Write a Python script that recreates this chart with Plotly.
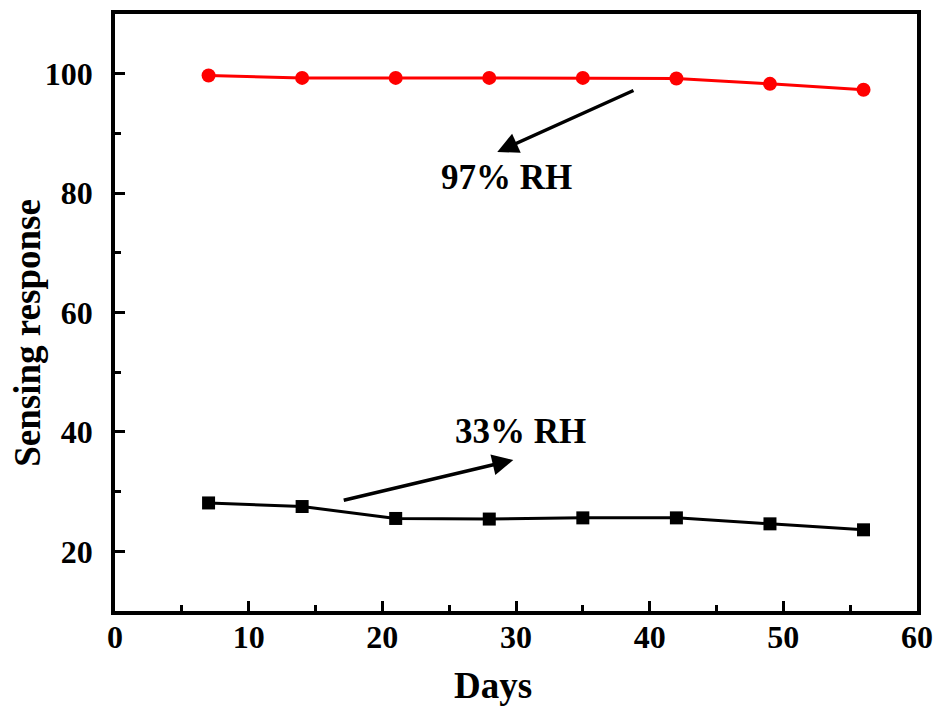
import plotly.graph_objects as go

days = [7, 14, 21, 28, 35, 42, 49, 56]
rh97 = [99.7, 99.3, 99.3, 99.3, 99.3, 99.2, 98.3, 97.3]
rh33 = [28.1, 27.5, 25.5, 25.4, 25.6, 25.6, 24.6, 23.6]

x_ticks = [0, 10, 20, 30, 40, 50, 60]
y_ticks = [20, 40, 60, 80, 100]

FONT = "Liberation Serif"

fig = go.Figure()
fig.add_trace(go.Scatter(x=days, y=rh97, mode="lines+markers",
                         line=dict(color="#ff0000", width=3),
                         marker=dict(symbol="circle", size=14, color="#ff0000"),
                         showlegend=False))
fig.add_trace(go.Scatter(x=days, y=rh33, mode="lines+markers",
                         line=dict(color="#000000", width=3),
                         marker=dict(symbol="square", size=13, color="#000000"),
                         showlegend=False))

fig.add_annotation(x=28.6, y=86.9, ax=38.9, ay=97.3, xref="x", yref="y", axref="x", ayref="y",
                   showarrow=True, arrowhead=2, arrowsize=1.2, arrowwidth=3.5, arrowcolor="black", text="")
fig.add_annotation(x=29.8, y=35.3, ax=17.0, ay=28.5, xref="x", yref="y", axref="x", ayref="y",
                   showarrow=True, arrowhead=2, arrowsize=1.2, arrowwidth=3.5, arrowcolor="black", text="")
fig.add_annotation(x=29.3, y=82.6, xref="x", yref="y", showarrow=False, text="97% RH",
                   font=dict(family=FONT, size=35, color="black", weight="bold"))
fig.add_annotation(x=30.3, y=40.0, xref="x", yref="y", showarrow=False, text="33% RH",
                   font=dict(family=FONT, size=35, color="black", weight="bold"))

# axis titles
fig.add_annotation(x=-0.1085, y=0.466, xref="paper", yref="paper", showarrow=False,
                   text="Sensing response", textangle=-90, xanchor="center", yanchor="middle",
                   font=dict(family=FONT, size=37, color="black", weight="bold"))
fig.add_annotation(x=0.471, y=-0.124, xref="paper", yref="paper", showarrow=False,
                   text="Days", xanchor="center", yanchor="middle",
                   font=dict(family=FONT, size=37, color="black", weight="bold"))

axis_common = dict(showline=True, linecolor="black", linewidth=3.5, mirror=True,
                   ticks="inside", ticklen=10, tickwidth=3, tickcolor="black",
                   showgrid=False, zeroline=False, automargin=False,
                   tickfont=dict(family=FONT, size=32, color="black", weight="bold"))

fig.update_xaxes(range=[0, 60], tickvals=x_ticks, ticktext=[str(v) for v in x_ticks],
                 minor=dict(ticks="inside", dtick=5, tick0=0, ticklen=6, tickwidth=3, tickcolor="black"),
                 ticklabelstandoff=-5,
                 **axis_common)
fig.update_yaxes(range=[10, 110], tickvals=y_ticks, ticktext=[str(v) for v in y_ticks],
                 minor=dict(ticks="inside", dtick=10, tick0=0, ticklen=6, tickwidth=3, tickcolor="black"),
                 ticklabelstandoff=12,
                 **axis_common)

fig.update_layout(width=935, height=708, margin=dict(l=115, r=18, t=14, b=97),
                  plot_bgcolor="white", paper_bgcolor="white")

fig.write_html("out.html")
